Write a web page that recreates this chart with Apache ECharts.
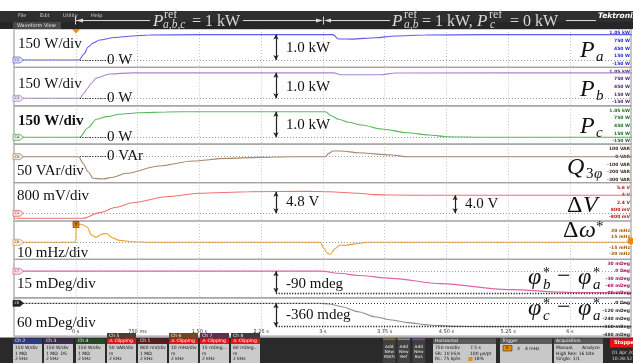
<!DOCTYPE html>
<html>
<head>
<meta charset="utf-8">
<script src="https://cdn.jsdelivr.net/npm/echarts@6/dist/echarts.min.js"></script>
<style>
  html, body { margin: 0; padding: 0; background: #fff; }
  #chart { width: 633px; height: 363px; }
</style>
</head>
<body>
<div id="chart"></div>
<script>
// traces: [time in s, value in channel units]
const paW = [[-0.75,0],[0.04,0],[0.10,234],[0.15,508],[0.21,664],[0.29,781],[0.47,879],[0.69,937],[0.9,975],[1.5,990],[3.12,990],[3.19,820],[3.35,815],[3.64,871],[3.88,937],[4.24,975],[5.0,990],[6.75,990]];
const pbW = [[-0.75,0],[0.05,0],[0.10,200],[0.145,400],[0.19,600],[0.25,790],[0.41,950],[0.69,995],[3.13,995],[3.22,920],[3.7,920],[3.88,990],[6.75,995]];
const pcW = [[-0.75,0],[0.05,0],[0.145,363],[0.25,705],[0.375,807],[0.53,900],[0.77,960],[1.1,990],[1.5,1000],[3.03,1000],[3.1,843],[3.19,702],[3.31,585],[3.47,480],[3.71,324],[4.03,179],[4.28,90],[4.52,23],[5.0,0],[6.75,0]];
const qVar = [[-0.75,0],[0.036,0],[0.088,-86],[0.149,-195],[0.21,-281],[0.33,-290],[0.45,-268],[0.61,-216],[1.01,-121],[1.42,-56],[1.82,-21],[2.22,-8],[2.62,0],[3.03,0],[3.07,43],[3.12,74],[3.22,74],[3.43,52],[3.83,22],[4.03,0],[6.75,0]];
const dV = [[-0.75,-1.11],[0.088,-1.11],[0.29,0.14],[0.49,1.33],[0.69,2.36],[1.1,3.69],[1.5,4.44],[2.1,4.8],[2.83,4.9],[3.07,4.8],[3.43,4.44],[3.64,4.14],[3.83,4.05],[4.3,4.0],[6.75,4.0]];
const dW = [[-0.75,0],[0.0,0],[0.006,47],[0.07,47],[0.137,40],[0.19,19],[0.25,13],[0.31,21],[0.37,23],[0.45,11],[0.53,5],[0.69,1.5],[0.89,0],[2.97,0],[3.01,-15],[3.05,-28],[3.09,-31],[3.15,-16],[3.21,-7],[3.27,-8],[3.39,-4],[3.55,0],[6.75,0]];
const phiBA = [[-0.75,0],[2.98,0],[3.19,-9],[3.43,-18],[3.83,-30],[4.43,-52],[5.24,-77],[6.05,-89],[6.75,-90]];
const phiCA = [[-0.75,0],[2.98,0],[3.07,-10],[3.23,-52],[3.43,-129],[3.63,-206],[3.83,-257],[4.03,-298],[4.28,-334],[4.6,-355],[5.0,-360],[6.75,-360]];

// tick labels
const timeTicks = [0, 0.75, 1.5, 2.25, 3, 3.75, 4.5, 5.25, 6];
const timeText = ['0 s', '750 ms', '1.50 s', '2.25 s', '3 s', '3.75 s', '4.50 s', '5.25 s', '6 s'];
const powTicks = [-150, 150, 450, 750, 1050];
const powText = ['-150 W', '150 W', '450 W', '750 W', '1.05 kW'];
const qTicks = [-300, -200, -100, 0, 100];
const qText = ['-300 VAR', '-200 VAR', '-100 VAR', '0 VAR', '100 VAR'];
const vTicks = [-0.8, 0.8, 2.4, 4, 5.6];
const vText = ['-800 mV', '800 mV', '2.4 V', '4 V', '5.6 V'];
const wTicks = [-30, -15, 15, 30];
const wText = ['-30 mHz', '-15 mHz', '15 mHz', '30 mHz'];
const pbTicks = [-90, -60, -30, 0, 30];
const pbText = ['-90 mDeg', '-60 mDeg', '-30 mDeg', '0 Deg', '30 mDeg'];
const pcTicks = [-480, -360, -240, -120, 0];
const pcText = ['-480 mDeg', '-360 mDeg', '-240 mDeg', '-120 mDeg', '0 Deg'];

const TOP = 29, H = 38.4, LEFT = 14, W = 619;
const ARROW_T = 2.43;

const panels = [
  { data: paW, color: '#5c5cee', min: -289, max: 1211, ticks: powTicks, text: powText, tc: '#2828c8', arrows: [[ARROW_T, 1000]], short: true },
  { data: pbW, color: '#a987cf', min: -293, max: 1207, ticks: powTicks, text: powText, tc: '#4a2a6a', arrows: [[ARROW_T, 1000]], short: true },
  { data: pcW, color: '#5cb85c', min: -270, max: 1230, ticks: powTicks, text: powText, tc: '#1f6f1f', arrows: [[ARROW_T, 1000]], short: true },
  { data: qVar, color: '#a8896a', min: -337, max: 163, ticks: qTicks, text: qText, tc: '#3a3020', arrows: [], short: true },
  { data: dV, color: '#f07272', min: -1.71, max: 6.82, ticks: vTicks, text: vText, tc: '#c01818', arrows: [[ARROW_T, 4.8], [4.605, 4.0]] },
  { data: dW, color: '#f0a030', min: -44.5, max: 55.5, ticks: wTicks, text: wText, tc: '#a05a10', arrows: [] },
  { data: phiBA, color: '#e064a8', min: -111, max: 49, ticks: pbTicks, text: pbText, tc: '#a01860', arrows: [[ARROW_T, -90]], level: -90 },
  { data: phiCA, color: '#8c8c8c', min: -507, max: 85, ticks: pcTicks, text: pcText, tc: '#333', arrows: [[ARROW_T, -360]], level: -360, zeroDark: true }
];

function lookup(vals, texts) {
  return v => {
    const i = vals.findIndex(u => Math.abs(u - v) < 1e-6);
    return i < 0 ? '' : texts[i];
  };
}

const grid = [], xAxis = [], yAxis = [], series = [];
panels.forEach((p, i) => {
  grid.push({ left: LEFT, top: TOP + i * H, width: W, height: H, show: true, borderColor: '#a2a2a2', borderWidth: 1.2 });
  const last = i === panels.length - 1;
  xAxis.push({
    type: 'value', gridIndex: i, min: -0.75, max: 6.74, interval: 0.75,
    axisLine: { show: false }, axisTick: { show: false },
    splitLine: { show: true, lineStyle: { color: '#c4c4c4', type: [1, 2], width: 1 } },
    axisLabel: last ? {
      show: true, inside: true, customValues: timeTicks, formatter: lookup(timeTicks, timeText),
      fontSize: 5, color: '#333', margin: 2, fontFamily: 'DejaVu Sans'
    } : { show: false }
  });
  yAxis.push({
    type: 'value', gridIndex: i, min: p.min, max: p.max, position: 'right',
    axisLine: { show: false }, axisTick: { show: false }, splitLine: { show: false },
    axisLabel: {
      show: true, inside: true, customValues: p.ticks, formatter: lookup(p.ticks, p.text),
      fontSize: 4.5, fontWeight: 'bold', color: p.tc, margin: 1, fontFamily: 'DejaVu Sans'
    }
  });
  const ml = [
    { yAxis: 0, lineStyle: { color: p.zeroDark ? '#333' : '#9a9a9a', type: [1, 2], width: 1 } }
  ];
  if (p.short) {
    ml.push([{ coord: [0.05, 0], lineStyle: { color: '#222', type: [1, 1.5], width: 1.2 } }, { coord: [0.37, 0] }]);
  }
  if (p.level !== undefined) {
    ml.push([{ coord: [ARROW_T, p.level], lineStyle: { color: '#222', type: [1.2, 1.5], width: 1.4 } }, { coord: [6.74, p.level] }]);
  }
  p.arrows.forEach(a => {
    ml.push([
      { coord: [a[0], 0], symbol: 'arrow', symbolSize: [4, 5], lineStyle: { color: '#222', type: 'solid', width: 1.2 } },
      { coord: [a[0], a[1]], symbol: 'arrow', symbolSize: [4, 5] }
    ]);
  });
  series.push({
    type: 'line', xAxisIndex: i, yAxisIndex: i, data: p.data,
    showSymbol: false, smooth: 0.3, smoothMonotone: 'x',
    lineStyle: { color: p.color, width: 1.1 },
    markLine: { silent: true, symbol: ['none', 'none'], label: { show: false }, data: ml }
  });
});

// ---------- decoration ----------
const serif = '"Liberation Serif", "DejaVu Serif", serif';
const sans = '"DejaVu Sans", sans-serif';
function txt(x, y, text, font, fill, extra) {
  return { type: 'text', z: 100, x: x, y: y, style: Object.assign({
    text: text, font: font, fill: fill || '#111',
    align: 'left', textAlign: 'left', verticalAlign: 'middle', textVerticalAlign: 'middle'
  }, extra || {}) };
}
// place by baseline: middle of the em box sits about 0.3 em above it
function base(x, b, text, font, fill) {
  const size = parseFloat(font.match(/([\d.]+)px/)[1]);
  return txt(x, b - 0.3 * size, text, font, fill);
}
function rect(x, y, w, h, fill, stroke) {
  return { type: 'rect', z: 90, shape: { x: x, y: y, width: w, height: h }, style: { fill: fill, stroke: stroke || null, lineWidth: 0.6 } };
}
function poly(points, fill, stroke) {
  return { type: 'polygon', z: 95, shape: { points: points }, style: { fill: fill, stroke: stroke || null, lineWidth: 0.7 } };
}
function line(x1, y1, x2, y2, color, w) {
  return { type: 'line', z: 95, shape: { x1: x1, y1: y1, x2: x2, y2: y2 }, style: { stroke: color, lineWidth: w || 1 } };
}

const g = [];
const L15 = '15px ' + serif;
// left channel labels
g.push(txt(18, 44, '150 W/div', L15), txt(107, 60.5, '0 W', L15), txt(286, 48, '1.0 kW', L15));
g.push(txt(18, 84, '150 W/div', L15), txt(107, 98.5, '0 W', L15), txt(286, 87, '1.0 kW', L15));
g.push(txt(18, 121, '150 W/div', 'bold ' + L15), txt(107, 137.5, '0 W', L15), txt(286, 125, '1.0 kW', L15));
g.push(txt(107, 156.5, '0 VAr', L15), txt(17, 171, '50 VAr/div', L15));
g.push(txt(17, 196.5, '800 mV/div', L15), txt(286, 202, '4.8 V', L15), txt(465, 204.5, '4.0 V', L15));
g.push(txt(17, 253, '10 mHz/div', L15));
g.push(txt(17, 284.5, '15 mDeg/div', L15), txt(286, 284, '-90 mdeg', L15));
g.push(txt(17, 323, '60 mDeg/div', L15), txt(286, 315, '-360 mdeg', L15));

// math labels on the right
const MI = 'italic 24px ' + serif, MS = 'italic 15px ' + serif, MR = '24px ' + serif;
g.push(base(580, 58, 'P', MI), base(596, 62, 'a', MS));
g.push(base(580, 97, 'P', MI), base(596, 101, 'b', MS));
g.push(base(580, 134, 'P', MI), base(596, 138, 'c', MS));
g.push(base(567, 175, 'Q', MI), base(586, 179, '3', '15px ' + serif), base(594, 179, 'φ', MS));
g.push(base(567, 213, 'Δ', MR), base(583, 213, 'V', MI));
g.push(base(563, 238, 'Δ', MR), base(579, 238, 'ω', MI), base(596, 232, '*', '15px ' + serif));
g.push(base(528, 285, 'φ', MI), base(543, 278, '*', '14px ' + serif), base(543, 290, 'b', MS),
       base(557, 284, '−', MR), base(578, 285, 'φ', MI), base(593, 278, '*', '14px ' + serif), base(593, 290, 'a', MS));
g.push(base(528, 316, 'φ', MI), base(543, 309, '*', '14px ' + serif), base(543, 321, 'c', MS),
       base(557, 315, '−', MR), base(578, 316, 'φ', MI), base(593, 309, '*', '14px ' + serif), base(593, 321, 'a', MS));

// channel tags at the zero levels
const tags = [
  ['C2', 60, '#6060e0', '#dcdcfa', '#333'], ['C3', 98.3, '#a080c0', '#ece0f5', '#333'],
  ['C4', 137.3, '#50a050', '#dff0df', '#333'], ['C5', 156.7, '#a08060', '#efe6dc', '#333'],
  ['C1', 213.3, '#e06060', '#fbe0e0', '#333'], ['C6', 242.3, '#e09030', '#fcebd5', '#333'],
  ['C7', 271.2, '#d060a0', '#f8dcec', '#333'], ['C8', 303.3, '#222', '#222', '#fff']
];
tags.forEach(t => {
  const y = t[1];
  g.push(poly([[13, y - 3], [20, y - 3], [23.5, y], [20, y + 3], [13, y + 3]], t[3], t[2]));
  g.push(txt(14.5, y, t[0], '3.5px ' + sans, t[4], { z: 101 }));
});

// trigger markers
g.push(poly([[72, 29], [80, 29], [76, 33.5]], '#f08a00'));
g.push(rect(73, 221.5, 6, 6, '#e88a00', '#333'));
g.push(txt(74.6, 224.6, 'T', 'bold 4.5px ' + sans, '#222', { z: 101 }));
g.push({ type: 'circle', z: 95, shape: { cx: 631, cy: 241, r: 3.5 }, style: { fill: '#f08a00' } });

// top menu bar with reference annotation
g.push(rect(0, 11, 633, 11, '#2f2f2f'), rect(0, 22, 633, 7, '#262626'), rect(13, 22, 48, 7, '#4a4a4a'));
[['File', 18], ['Edit', 40], ['Utility', 63], ['Help', 91]].forEach(m => g.push(txt(m[1], 15.5, m[0], '5px ' + sans, '#cfcfcf')));
g.push(txt(17, 25.5, 'Waveform View', '5px ' + sans, '#e0e0e0'));
g.push(txt(598, 16, 'Tektronix', 'bold italic 7.5px ' + sans, '#fff'));
const RC = '#d8d8d8';
g.push(line(75.5, 20.5, 150, 20.5, RC), line(243, 20.5, 321, 20.5, RC), line(326, 20.5, 390, 20.5, RC), line(566, 20.5, 596, 20.5, RC));
g.push(line(75.5, 16.5, 75.5, 24.5, RC), line(323.5, 16.5, 323.5, 24.5, RC));
g.push(poly([[76, 20.5], [83, 18.5], [83, 22.5]], RC), poly([[323, 20.5], [316, 18.5], [316, 22.5]], RC), poly([[324, 20.5], [331, 18.5], [331, 22.5]], RC));
const RP = 'italic 17px ' + serif, RS = '12px ' + serif, RSI = 'italic 11.5px ' + serif, RT = '16px ' + serif;
g.push(base(153, 27, 'P', RP, RC), base(164, 18, 'ref', RS, RC), base(163, 28.5, 'a,b,c', RSI, RC), base(192, 27, '= 1 kW', RT, RC));
g.push(base(392, 27, 'P', RP, RC), base(404, 18, 'ref', RS, RC), base(404, 28.5, 'a,b', RSI, RC), base(422, 27, '= 1 kW,', RT, RC));
g.push(base(477, 27, 'P', RP, RC), base(489, 18, 'ref', RS, RC), base(490, 28.5, 'c', RSI, RC), base(510, 27, '= 0 kW', RT, RC));

// bottom status bar
g.push(rect(0, 337.5, 633, 26, '#2a2a2a'));
const badges = [
  ['Ch 2', 13, '#2c3a84', false, ['150 W/div', '1 MΩ', '2 kHz']],
  ['Ch 3', 44, '#3c2c4e', false, ['150 W/div', '1 MΩ  DS', '2 kHz']],
  ['Ch 4', 76, '#244a24', false, ['150 W/div', '1 MΩ', '2 kHz']],
  ['Ch 5', 107, '#4c4032', true, ['50 VAR/div', 'm', '2 kHz']],
  ['Ch 1', 138, '#5a1c1c', false, ['800 mV/div', '1 MΩ', '2 kHz']],
  ['Ch 6', 169, '#6a4a20', true, ['10 mHz/div', 'm', '2 kHz']],
  ['Ch 7', 200, '#5a3050', true, ['15 mDeg...', 'm', '2 kHz']],
  ['Ch 8', 231, '#3c3c3c', true, ['60 mDeg...', 'm', '2 kHz']]
];
badges.forEach(b => {
  const x = b[1];
  g.push(rect(x, 344, 29, 19.5, '#cbcbcb'));
  if (b[3]) {
    g.push(rect(x, 333, 29, 5.5, b[2]), rect(x, 338.5, 29, 5.5, '#e41414'));
    g.push(txt(x + 2, 335.8, b[0], '4.5px ' + sans, '#eee', { z: 101 }));
    g.push(txt(x + 2, 341.3, '⚠ Clipping', '4.5px ' + sans, '#fff', { z: 101 }));
  } else {
    g.push(rect(x, 338.5, 29, 5.5, b[2]));
    g.push(txt(x + 2, 341.3, b[0], '4.5px ' + sans, '#eee', { z: 101 }));
  }
  b[4].forEach((s, k) => g.push(txt(x + 2, 348 + k * 5.6, s, '4.5px ' + sans, '#111', { z: 101 })));
});
[[383, '#9a6a30', 'Math'], [397.5, '#8a8a8a', 'Ref'], [412.5, '#7a4aa0', 'Bus']].forEach(a => {
  g.push(rect(a[0], 338.5, 12.5, 24.5, '#404040'), rect(a[0], 338.5, 12.5, 1.5, a[1]));
  ['Add', 'New', a[2]].forEach((s, k) => g.push(txt(a[0] + 6.25, 347 + k * 5, s, '4.3px ' + sans, '#e8e8e8', { align: 'center', textAlign: 'center', z: 101 })));
});
function panel(x, w, title, rows) {
  g.push(rect(x, 338.5, w, 5.5, '#5a5a5a'), rect(x, 344, w, 19.5, '#c8c8c8'));
  g.push(txt(x + 2, 341.3, title, '4.5px ' + sans, '#eee', { z: 101 }));
  rows.forEach(r => g.push(txt(r[0], r[1], r[2], '4.5px ' + sans, '#111', { z: 101 })));
}
panel(433, 63, 'Horizontal', [[435, 348, '750 ms/div'], [470, 348, '7.5 s'], [435, 353.5, 'SR: 10 kS/s'], [470, 353.5, '100 µs/pt'], [435, 359, 'RL: 75 kpts'], [474, 359, '18%']]);
g.push(rect(468.5, 357, 4, 4, '#e88a00'));
panel(500, 52, 'Trigger', [[517, 348.5, 'X'], [525, 348.5, '4 mHz']]);
g.push(rect(503, 345.5, 9, 5.5, '#e88a00', '#333'), txt(506, 348.3, '6', '4px ' + sans, '#222', { z: 101 }));
panel(554, 49, 'Acquisition', [[556, 348, 'Manual,'], [582, 348, 'Analyze'], [556, 353.5, 'High Res: 16 bits'], [556, 359, 'Single: 1/1']]);
g.push(rect(610, 338.5, 24, 9, '#e81414'), txt(614, 343, 'Stopped', 'bold 5px ' + sans, '#fff', { z: 101 }));
g.push(txt(612, 353, '01 Apr 20', '4.5px ' + sans, '#ddd'), txt(612, 358.5, '10:28:52 A', '4.5px ' + sans, '#ddd'));

const chart = echarts.init(document.getElementById('chart'), null, { renderer: 'canvas' });
chart.setOption({
  animation: false,
  backgroundColor: '#ffffff',
  grid: grid,
  xAxis: xAxis,
  yAxis: yAxis,
  series: series,
  graphic: { elements: g }
});
</script>
</body>
</html>
